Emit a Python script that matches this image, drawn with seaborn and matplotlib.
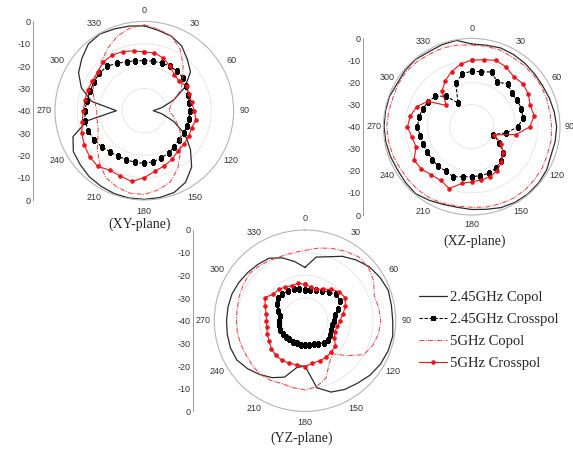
import numpy as np
import matplotlib.pyplot as plt
import pandas as pd
import seaborn as sns

# angles in degrees, 10 degree steps
angles = np.arange(0, 360, 10)
angle_labels = [str(a) for a in range(0, 360, 30)]
scale_labels = ['0', '-10', '-20', '-30', '-40', '-30', '-20', '-10', '0']

# XY-plane (dB)
xy_copol_245 = [-2, -3.5, -4.5, -6.5, -10, -13, -19, -26, -32, -36, -32, -26,
                -19, -13, -7, -3, -1, -0.5, -0.3, -0.3, -0.5, -1, -1.5, -2.5,
                -3.3, -6, -14, -27.5, -16, -10, -6, -3.5, -1, -0.3, -1, -1.5]
xy_cross_245 = [-17.6, -17.5, -17.2, -17, -17, -17.2, -18.3, -19, -19.5, -19.6, -19.7, -19.6,
                -19.7, -19.8, -19, -18.2, -17.5, -16.8, -16.4, -16.5, -16.6, -16.5, -16, -15,
                -14, -13.3, -13.1, -13.4, -13.9, -14.2, -14, -13.8, -14, -15.5, -16.7, -17.3]
xy_copol_5 = [-1.5, -3, -4.5, -8, -13, -17.5, -21, -26, -28, -29, -27, -24.5,
              -21.5, -19, -15, -10, -6, -4, -2.5, -2.5, -3.7, -5.5, -9, -12.5,
              -16, -18, -18.5, -18.7, -17.5, -15.5, -14, -13, -10.5, -7.5, -4.5, -2.5]
xy_cross_5 = [-13.7, -13.7, -15, -17, -19, -19.5, -18, -18.7, -18.5, -17.6, -16.5, -17.5,
              -17, -16.8, -16.5, -15, -13.7, -12.5, -10, -7.8, -8.8, -9.2, -7.5, -8,
              -9, -10.2, -11.8, -12.7, -13, -13, -13.2, -12.8, -11.5, -11.2, -11.8, -12.8]

# XZ-plane (dB)
xz_copol_245 = [-2.5, -2.5, -2, -2.2, -2.5, -2.8, -2.9, -2.5, -2, -1.5, -1.6, -1.8,
                -0.8, -0.4, -0.3, -0.5, -1, -2, -2.5, -2.9, -2.5, -1.5, -0.4, -0.8,
                -1.1, -0.8, -0.5, -0.3, -0.3, -0.3, -1, -0.5, -0.3, -0.9, -0.5, -0.3]
xz_cross_245 = [-14.8, -14.8, -13.6, -16.8, -14.5, -16.4, -16.2, -16, -16.5, -18.9, -24, -29.5,
                -25.5, -21.5, -19.5, -18.3, -17.5, -17.5, -17.3, -17, -15.8, -16.7, -16.5, -16.8,
                -16.8, -16.6, -16.3, -15.4, -15.8, -16.3, -17.4, -18.5, -22, -27.6, -19, -15.7]
xz_copol_5 = [-3, -3, -3, -3.5, -3.5, -3.5, -3.5, -3.8, -4, -3.8, -3.5, -3.5,
              -3, -2.8, -2.5, -2.5, -2.8, -3, -3.5, -3.5, -3, -2.5, -2.5, -2.5,
              -2.5, -2, -1.8, -1.5, -1.8, -2, -1.5, -1.2, -1.5, -2, -2, -2.5]
xz_cross_5 = [-9.8, -9.2, -8, -8.8, -10.4, -9.7, -10.4, -11.8, -11.3, -13.6, -19.6, -29.2,
              -24.5, -21.5, -19, -17, -15.8, -15.5, -15, -13.9, -10.2, -11.9, -11.5, -10.2,
              -9.8, -13.2, -12.5, -10.9, -11.8, -13.5, -17, -25, -19, -16, -13.4, -11.2]

# YZ-plane (dB)
yz_copol_245 = [-16.5, -11.5, -10, -7.2, -5, -3, -1.8, -0.9, -1.3, -1.3, -0.7, -1,
                -1.6, -2.6, -4, -5, -6.5, -10, -20, -19, -13.5, -11, -9, -7,
                -5.3, -5, -5.2, -5.4, -5.5, -5.7, -6.3, -7, -7.6, -8.2, -10.5, -13.5]
yz_cross_245 = [-26.3, -26.2, -25.6, -24.8, -23.5, -22, -22.2, -24.5, -26.5, -27.3, -28, -27.6,
                -27.3, -26.9, -27.3, -28.3, -28.9, -29.1, -29.1, -29.1, -29.3, -29.4, -29.3, -29.1,
                -28.6, -28.2, -28.2, -28.4, -28.8, -27.5, -25.5, -24.6, -24.5, -24.8, -25.2, -25.6]
yz_copol_5 = [-9, -7.5, -6, -4.6, -3.2, -3.5, -5, -7.5, -7, -6.6, -7, -8.2,
              -10, -16, -21, -18.5, -13, -10.5, -9.4, -10, -10.5, -9.6, -9.2, -9.5,
              -9.9, -9.8, -9.7, -9.7, -9.6, -9.1, -8.5, -7.9, -8.5, -9.2, -9.7, -9.5]
yz_cross_5 = [-24, -25, -25.3, -24, -22, -20.2, -19.6, -21, -23, -24.6, -25.5, -26,
              -25, -22.5, -22, -21.3, -21.2, -21, -19.8, -20.2, -20, -19.8, -20, -20.7,
              -21.7, -22.4, -22.8, -23, -22.6, -21.3, -19.6, -21.8, -22, -22.8, -23.5, -23.2]

sns.set_style('white')
plt.rcParams['font.family'] = ['Liberation Sans', 'DejaVu Sans']

W, H = 573, 450
fig = plt.figure(figsize=(W / 100, H / 100), dpi=100)


def px_axes(x0, y0, w, h, **kw):
    return fig.add_axes([x0 / W, 1 - (y0 + h) / H, w / W, h / H], **kw)


styles = {
    '2.45GHz Copol': dict(color='#2b2b2b', lw=0.9, linestyle='-'),
    '2.45GHz Crosspol': dict(color='black', lw=0.8, linestyle=(0, (3, 1.5)), marker='s',
                             markersize=2.3, markeredgecolor='black'),
    '5GHz Copol': dict(color='#ee3a3a', lw=0.7, linestyle=(0, (5, 1.5, 1, 1.5))),
    '5GHz Crosspol': dict(color='#e8141b', lw=0.8, linestyle='-', marker='o',
                          markersize=2.5, markeredgecolor='#e8141b'),
}


def polar_panel(cx, cy, R, spine_x, series, pad=-2.5):
    ax = px_axes(cx - R, cy - R, 2 * R, 2 * R, projection='polar')
    ax.set_theta_zero_location('N')
    ax.set_theta_direction(-1)
    th = np.deg2rad(list(angles) + [360])
    for name, vals in series.items():
        df = pd.DataFrame({'theta': th, 'r': list(vals) + [vals[0]]})
        sns.lineplot(data=df, x='theta', y='r', ax=ax, sort=False, estimator=None,
                     label=name, **styles[name])
    ax.set_ylim(-40, 0)
    ax.set_yticks([-30, -20, -10])
    ax.set_yticklabels([])
    ax.set_xticks(np.deg2rad(np.arange(0, 360, 30)))
    ax.set_xticklabels(angle_labels, fontsize=6.5, color='#333333')
    ax.tick_params(axis='x', pad=pad)
    ax.xaxis.grid(False)
    ax.yaxis.grid(True, color='#e4e4e4', lw=0.6)
    ax.spines['polar'].set_color('#b5b5b5')
    ax.spines['polar'].set_linewidth(0.8)
    ax.set_xlabel('')
    ax.set_ylabel('')
    ax.get_legend().remove()

    sc = px_axes(spine_x, cy - R, 2, 2 * R)
    sc.set_ylim(80, 0)
    sc.set_yticks(range(0, 81, 10))
    sc.set_yticklabels(scale_labels)
    sc.set_yticks(range(0, 81, 2), minor=True)
    sc.set_xticks([])
    for s in ['top', 'right', 'bottom']:
        sc.spines[s].set_visible(False)
    sc.spines['left'].set_color('#9a9a9a')
    sc.spines['left'].set_linewidth(0.7)
    sc.tick_params(axis='y', which='major', direction='in', length=3, width=0.6,
                   labelsize=6.5, labelcolor='#333333', color='#9a9a9a', pad=2)
    sc.tick_params(axis='y', which='minor', direction='in', length=1.5, width=0.5,
                   color='#9a9a9a')
    sc.patch.set_alpha(0)
    return ax


polar_panel(144.3, 110.7, 89.3, 33.3, {
    '2.45GHz Copol': xy_copol_245, '2.45GHz Crosspol': xy_cross_245,
    '5GHz Copol': xy_copol_5, '5GHz Crosspol': xy_cross_5})
polar_panel(471.7, 126.7, 88.3, 363.3, {
    '2.45GHz Copol': xz_copol_245, '2.45GHz Crosspol': xz_cross_245,
    '5GHz Copol': xz_copol_5, '5GHz Crosspol': xz_cross_5}, pad=-3.5)
ax3 = polar_panel(305, 320.7, 90.7, 193.3, {
    '2.45GHz Copol': yz_copol_245, '2.45GHz Crosspol': yz_cross_245,
    '5GHz Copol': yz_copol_5, '5GHz Crosspol': yz_cross_5})

serif = ['Liberation Serif', 'DejaVu Serif']
fig.text(140 / W, 1 - 224 / H, '(XY-plane)', ha='center', va='center', fontsize=10, family=serif)
fig.text(475 / W, 1 - 241 / H, '(XZ-plane)', ha='center', va='center', fontsize=10, family=serif)
fig.text(302 / W, 1 - 438 / H, '(YZ-plane)', ha='center', va='center', fontsize=10, family=serif)

handles, labels = ax3.get_legend_handles_labels()
fig.legend(handles, labels, loc='upper left', bbox_to_anchor=(419 / W, 1 - 291 / H),
           frameon=False, prop={'family': serif, 'size': 10.5}, handlelength=1.9,
           handletextpad=0.25, labelspacing=0.6, borderpad=0, borderaxespad=0)

fig.savefig('out.png', dpi=100)
